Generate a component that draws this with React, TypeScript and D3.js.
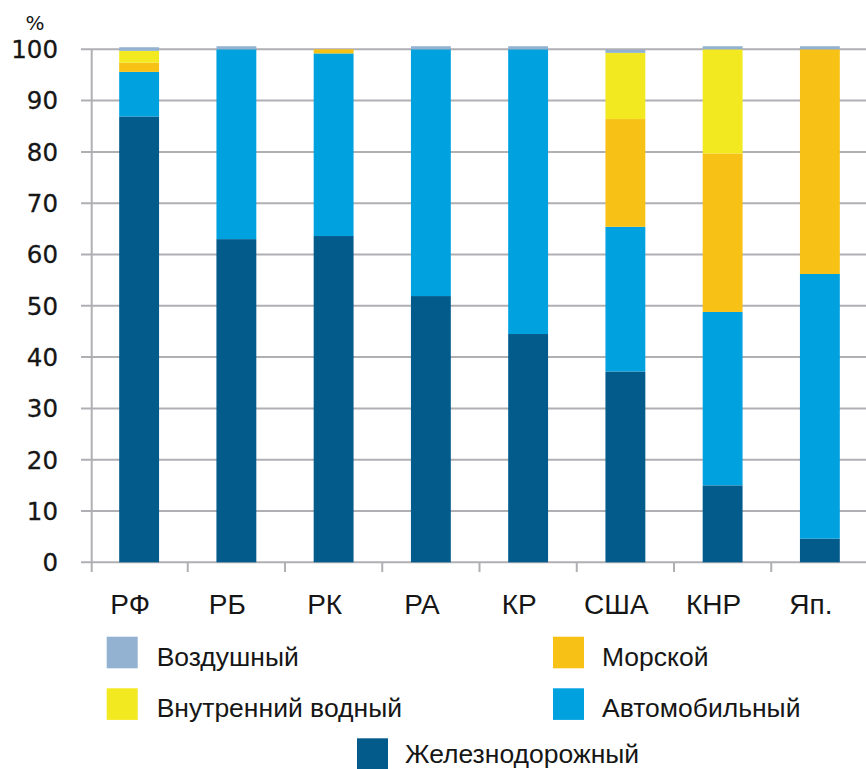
import React from "react";
import * as d3 from "d3";

const categories = ["РФ", "РБ", "РК", "РА", "КР", "США", "КНР", "Яп."];
const rail = [86.9, 63.0, 63.6, 51.9, 44.5, 37.2, 15.0, 4.6];
const road = [8.7, 37.0, 35.6, 48.1, 55.5, 28.2, 33.8, 51.6];
const sea = [1.8, 0, 0.8, 0, 0, 21.0, 30.9, 43.8];
const inland = [2.3, 0, 0, 0, 0, 12.9, 20.3, 0];
const air = [0.7, 0.6, 0, 0.6, 0.6, 0.6, 0.6, 0.6];
const yTicks = [0, 10, 20, 30, 40, 50, 60, 70, 80, 90, 100];

const seriesKeys = ["rail", "road", "sea", "inland", "air"];
const seriesNames: Record<string, string> = {
  air: "Воздушный",
  sea: "Морской",
  inland: "Внутренний водный",
  road: "Автомобильный",
  rail: "Железнодорожный",
};
const colors: Record<string, string> = {
  rail: "#035b8b",
  road: "#00a1df",
  sea: "#f7c116",
  inland: "#f3e920",
  air: "#93b2d2",
};

const W = 866;
const H = 769;
const GRID = "#afafb4";
const TEXT = "#161616";

export default function App() {
  const rows = categories.map((c, i) => ({
    cat: c,
    rail: rail[i],
    road: road[i],
    sea: sea[i],
    inland: inland[i],
    air: air[i],
  }));
  const stack = d3.stack<any>().keys(seriesKeys)(rows);

  const y = d3.scaleLinear().domain([0, 100]).range([562.3, 49.3]);
  const x = d3.scaleBand<string>().domain(categories).range([90.5, 868.5]).padding(0);
  const bw = x.bandwidth() * 0.41;
  const axisX = 91.7;

  const legend = [
    { key: "air", sx: 106.7, tx: 156.7, row: 0 },
    { key: "sea", sx: 553, tx: 602, row: 0 },
    { key: "inland", sx: 106.7, tx: 156.7, row: 1 },
    { key: "road", sx: 553, tx: 602, row: 1 },
    { key: "rail", sx: 357, tx: 405, row: 2 },
  ];
  const rowTop = [636.7, 688.3, 738.3];
  const rowBase = [665.5, 716.5, 762.5];

  return (
    <svg
      width={W}
      height={H}
      style={{ position: "absolute", left: 0, top: 0, background: "#fff" }}
    >
      {yTicks.map((t) => (
        <line key={"g" + t} x1={81} x2={W} y1={y(t)} y2={y(t)} stroke={GRID} strokeWidth={2} />
      ))}
      <line x1={axisX} x2={axisX} y1={y(100)} y2={572} stroke={GRID} strokeWidth={2} />
      {categories.slice(1).map((c) => (
        <line
          key={"t" + c}
          x1={x(c)!}
          x2={x(c)!}
          y1={y(0)}
          y2={572}
          stroke={GRID}
          strokeWidth={2}
        />
      ))}
      {stack.map((s) => (
        <g key={s.key} fill={colors[s.key]}>
          {s.map((d, i) =>
            d[1] - d[0] > 0 ? (
              <rect
                key={i}
                x={x(categories[i])! + (x.bandwidth() - bw) / 2}
                width={bw}
                y={y(d[1])}
                height={y(d[0]) - y(d[1])}
              />
            ) : null
          )}
        </g>
      ))}
      {yTicks.map((t) => (
        <text
          key={"l" + t}
          x={58}
          y={y(t)}
          dy="0.36em"
          textAnchor="end"
          fontFamily="DejaVu Sans"
          fontSize={24.5}
          fill={TEXT}
          stroke={TEXT}
          strokeWidth={0.3}
        >
          {t}
        </text>
      ))}
      <text x={35} y={30} textAnchor="middle" fontFamily="DejaVu Sans" fontSize={20} fill={TEXT}>
        %
      </text>
      {categories.map((c) => (
        <text
          key={"x" + c}
          x={x(c)! + x.bandwidth() / 2 - 9}
          y={614.3}
          textAnchor="middle"
          fontFamily="Liberation Sans"
          fontSize={28}
          fill={TEXT}
        >
          {c}
        </text>
      ))}
      {legend.map((l) => (
        <g key={"lg" + l.key}>
          <rect x={l.sx} y={rowTop[l.row]} width={31} height={31.6} fill={colors[l.key]} />
          <text
            x={l.tx}
            y={rowBase[l.row]}
            fontFamily="Liberation Sans"
            fontSize={26.5}
            fill={TEXT}
          >
            {seriesNames[l.key]}
          </text>
        </g>
      ))}
    </svg>
  );
}
